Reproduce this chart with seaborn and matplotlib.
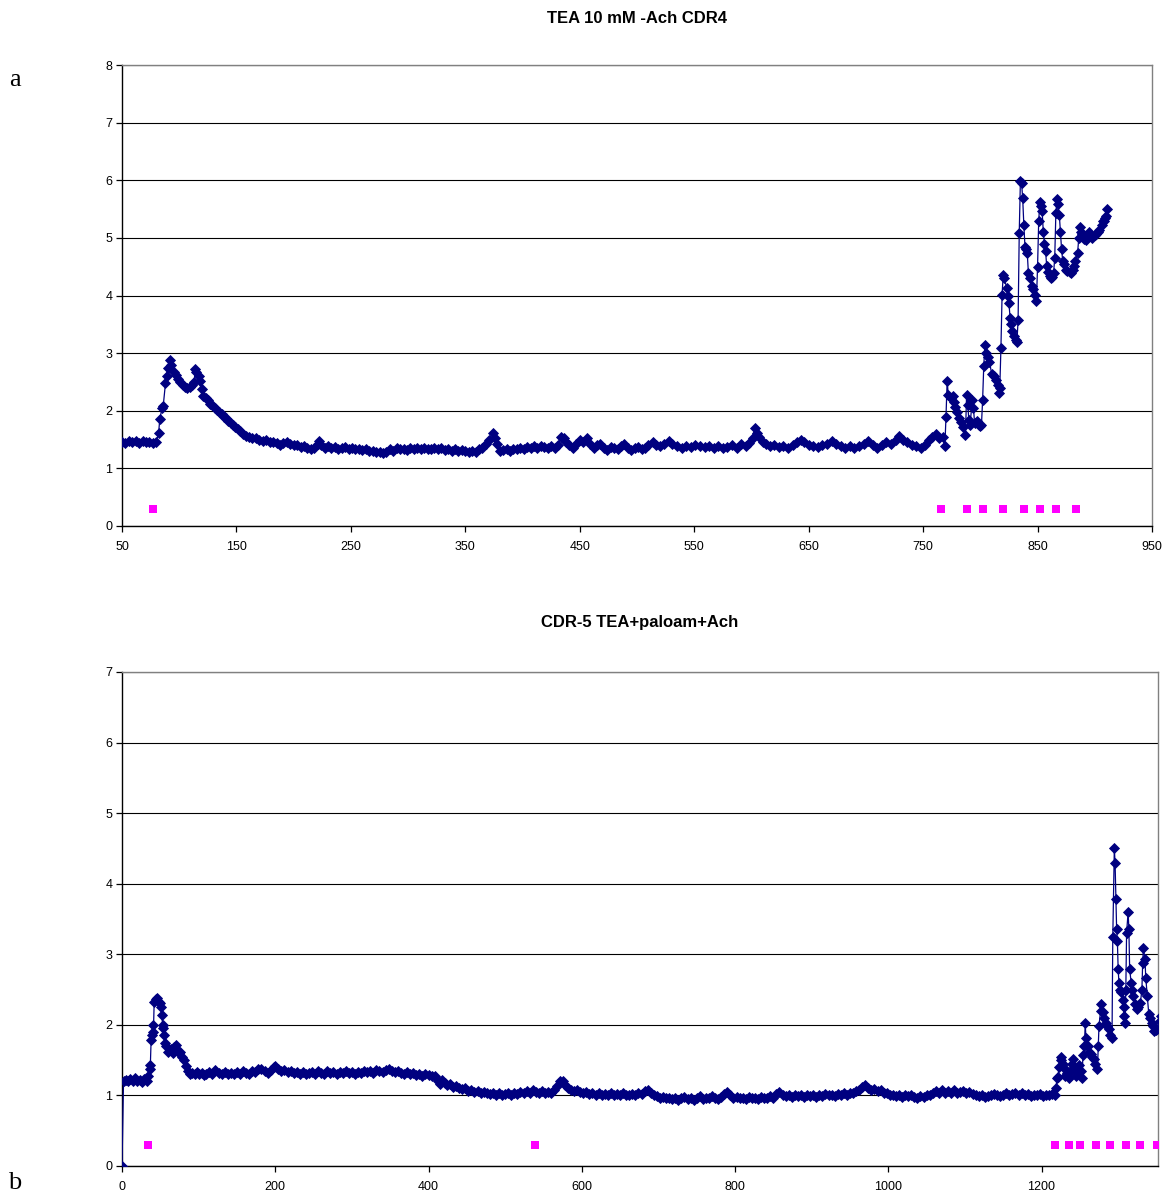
import matplotlib
matplotlib.use("Agg")
import matplotlib.pyplot as plt
import seaborn as sns
import pandas as pd

# ---------------- data ----------------
title_a = "TEA 10 mM -Ach CDR4"
title_b = "CDR-5 TEA+paloam+Ach"

a_x = [50, 53, 56, 59, 62, 65, 68, 71, 74, 77, 80, 82, 83, 85, 86, 88, 89, 90, 92, 93, 95, 97, 99, 101, 103, 105, 107, 109,
       111, 113, 114, 115, 117, 118, 120, 121, 123, 125, 127, 129, 131, 133, 135, 137, 139, 141, 143, 145, 147, 149, 151,
       153, 156, 158, 161, 164, 167, 170, 173, 176, 179, 182, 185, 188, 191, 194, 197, 200, 203, 206, 209, 212, 215, 218,
       221, 222, 224, 227, 230, 233, 236, 239, 242, 245, 248, 251, 254, 257, 260, 263, 266, 269, 272, 275, 278, 281, 284,
       287, 290, 293, 296, 299, 302, 305, 308, 311, 314, 317, 320, 323, 326, 329, 332, 335, 338, 341, 344, 347, 350, 353,
       356, 359, 362, 365, 368, 371, 374, 376, 378, 380, 383, 386, 389, 392, 395, 398, 401, 404, 407, 410, 413, 416, 419,
       422, 425, 428, 431, 434, 436, 438, 441, 444, 447, 450, 453, 456, 459, 462, 465, 468, 471, 474, 477, 480, 483, 486,
       489, 492, 495, 498, 501, 504, 507, 510, 514, 517, 520, 524, 528, 531, 535, 539, 543, 547, 551, 555, 559, 563, 567,
       571, 575, 579, 583, 587, 591, 595, 598, 601, 603, 605, 607, 610, 613, 616, 620, 624, 628, 632, 636, 640, 643, 646,
       650, 654, 658, 662, 666, 670, 674, 678, 682, 686, 690, 694, 698, 702, 706, 710, 714, 718, 722, 726, 729, 732, 736,
       740, 744, 748, 752, 755, 758, 761, 764, 767, 769, 770, 771, 772, 774, 776, 777, 778, 780, 781, 783, 785, 787, 788,
       789, 790, 791, 793, 794, 795, 797, 799, 800, 801, 802, 803, 804, 805, 807, 808, 810, 812, 814, 815, 816, 817, 818,
       819, 820, 821, 823, 824, 825, 826, 827, 828, 829, 831, 832, 833, 834, 835, 836, 837, 838, 839, 840, 841, 842, 843,
       845, 846, 848, 849, 850, 851, 852, 853, 854, 855, 856, 857, 858, 859, 861, 862, 863, 864, 865, 866, 867, 868, 869,
       870, 871, 872, 873, 875, 876, 878, 879, 881, 882, 883, 885, 886, 887, 888, 889, 891, 892, 894, 895, 897, 898, 900,
       901, 903, 904, 906, 907, 908, 909, 910, 911]
a_y = [1.46, 1.44, 1.47, 1.45, 1.48, 1.44, 1.47, 1.45, 1.46, 1.44, 1.45, 1.62, 1.85, 2.05, 2.08, 2.48, 2.6, 2.75, 2.88, 2.8,
       2.68, 2.62, 2.55, 2.5, 2.45, 2.42, 2.4, 2.42, 2.45, 2.5, 2.72, 2.68, 2.6, 2.52, 2.38, 2.25, 2.22, 2.18, 2.12, 2.1,
       2.05, 2.02, 1.98, 1.95, 1.9, 1.87, 1.82, 1.78, 1.75, 1.72, 1.68, 1.64, 1.6, 1.57, 1.55, 1.52, 1.53, 1.5, 1.48, 1.5,
       1.46, 1.45, 1.44, 1.41, 1.44, 1.46, 1.42, 1.4, 1.41, 1.37, 1.38, 1.35, 1.33, 1.35, 1.42, 1.48, 1.4, 1.36, 1.38, 1.35,
       1.37, 1.34, 1.36, 1.37, 1.34, 1.35, 1.33, 1.34, 1.32, 1.34, 1.31, 1.3, 1.29, 1.28, 1.26, 1.29, 1.33, 1.31, 1.35,
       1.33, 1.34, 1.32, 1.35, 1.33, 1.36, 1.34, 1.35, 1.33, 1.34, 1.36, 1.33, 1.35, 1.32, 1.34, 1.31, 1.33, 1.3, 1.32,
       1.31, 1.29, 1.3, 1.28, 1.33, 1.36, 1.42, 1.5, 1.62, 1.52, 1.43, 1.3, 1.32, 1.33, 1.31, 1.34, 1.33, 1.35, 1.34, 1.37,
       1.35, 1.38, 1.36, 1.39, 1.37, 1.35, 1.38, 1.36, 1.4, 1.55, 1.52, 1.45, 1.4, 1.36, 1.42, 1.5, 1.46, 1.52, 1.42, 1.36,
       1.4, 1.43, 1.35, 1.32, 1.37, 1.35, 1.33, 1.38, 1.43, 1.36, 1.32, 1.35, 1.37, 1.34, 1.36, 1.4, 1.45, 1.4, 1.38, 1.42,
       1.47, 1.43, 1.38, 1.36, 1.39, 1.37, 1.4, 1.38, 1.37, 1.39, 1.36, 1.38, 1.35, 1.37, 1.4, 1.36, 1.43, 1.38, 1.44,
       1.52, 1.7, 1.62, 1.55, 1.46, 1.42, 1.38, 1.4, 1.37, 1.39, 1.36, 1.4, 1.45, 1.49, 1.46, 1.4, 1.38, 1.37, 1.4, 1.43,
       1.48, 1.42, 1.38, 1.36, 1.38, 1.35, 1.39, 1.42, 1.48, 1.4, 1.36, 1.4, 1.45, 1.42, 1.5, 1.56, 1.5, 1.46, 1.4, 1.38,
       1.36, 1.4, 1.5, 1.54, 1.6, 1.52, 1.55, 1.38, 1.9, 2.52, 2.28, 2.22, 2.25, 2.15, 2.07, 1.98, 1.87, 1.8, 1.72, 1.58,
       2.28, 2.1, 1.84, 1.75, 2.19, 2.05, 1.78, 1.82, 1.75, 1.73, 1.76, 2.19, 2.78, 3.14, 3.0, 2.93, 2.85, 2.63, 2.6, 2.54,
       2.45, 2.31, 2.4, 3.09, 4.01, 4.36, 4.3, 4.13, 4.0, 3.87, 3.61, 3.5, 3.38, 3.3, 3.23, 3.2, 3.58, 5.09, 5.98, 5.96,
       5.69, 5.23, 4.85, 4.8, 4.74, 4.39, 4.3, 4.16, 4.12, 4.01, 3.9, 4.5, 5.29, 5.62, 5.55, 5.46, 5.11, 4.9, 4.77, 4.51,
       4.4, 4.33, 4.3, 4.32, 4.39, 4.65, 5.43, 5.67, 5.58, 5.4, 5.11, 4.8, 4.6, 4.54, 4.45, 4.42, 4.4, 4.39, 4.45, 4.51,
       4.6, 4.74, 5.0, 5.19, 5.1, 5.06, 4.98, 4.97, 5.05, 5.11, 5.03, 5.0, 5.05, 5.06, 5.1, 5.14, 5.22, 5.29, 5.3, 5.35,
       5.38, 5.5]
a_mark_x = [77, 766, 788, 802, 820, 838, 852, 866, 884]
a_mark_y = [0.3, 0.3, 0.3, 0.3, 0.3, 0.3, 0.3, 0.3, 0.3]

b_x = [0, 2, 5, 8, 11, 14, 17, 20, 23, 26, 29, 32, 34, 36, 37, 38, 39, 40, 41, 42, 44, 46, 48, 50, 51, 52, 53, 54, 55, 56,
       58, 60, 62, 64, 66, 68, 70, 72, 74, 76, 78, 81, 84, 86, 89, 92, 95, 98, 101, 104, 107, 110, 114, 118, 122, 126,
       130, 134, 138, 142, 146, 150, 154, 158, 162, 166, 170, 174, 178, 182, 186, 190, 194, 198, 200, 204, 208, 212, 216,
       220, 224, 228, 232, 236, 240, 244, 248, 252, 256, 260, 264, 268, 272, 276, 280, 284, 288, 292, 296, 300, 304, 308,
       312, 316, 320, 324, 328, 332, 336, 340, 344, 348, 352, 356, 360, 364, 368, 372, 376, 380, 384, 388, 392, 396, 400,
       404, 408, 412, 415, 418, 421, 424, 428, 432, 436, 440, 444, 448, 452, 456, 460, 464, 468, 472, 476, 480, 484, 488,
       492, 496, 500, 504, 508, 512, 516, 520, 524, 528, 532, 536, 540, 544, 548, 552, 556, 560, 564, 568, 572, 575, 578,
       582, 586, 590, 594, 598, 602, 606, 610, 614, 618, 622, 626, 630, 634, 638, 642, 646, 650, 654, 658, 662, 666, 670,
       674, 678, 682, 686, 690, 694, 698, 702, 706, 710, 714, 718, 722, 726, 730, 734, 738, 742, 746, 750, 754, 758, 762,
       766, 770, 774, 778, 782, 786, 790, 794, 798, 802, 806, 810, 814, 818, 822, 826, 830, 834, 838, 842, 846, 850, 854,
       858, 862, 866, 870, 874, 878, 882, 886, 890, 894, 898, 902, 906, 910, 914, 918, 922, 926, 930, 934, 938, 942, 946,
       950, 954, 958, 962, 966, 970, 974, 978, 982, 986, 990, 994, 998, 1002, 1006, 1010, 1014, 1018, 1022, 1026, 1030,
       1034, 1038, 1042, 1046, 1050, 1054, 1058, 1062, 1066, 1070, 1074, 1078, 1082, 1086, 1090, 1094, 1098, 1102, 1106,
       1110, 1114, 1118, 1122, 1126, 1130, 1134, 1138, 1142, 1146, 1150, 1154, 1158, 1162, 1166, 1170, 1174, 1178, 1182,
       1186, 1190, 1194, 1198, 1202, 1206, 1210, 1214, 1217, 1219, 1220, 1221, 1223, 1225, 1226, 1228, 1230, 1231, 1233,
       1236, 1238, 1240, 1241, 1243, 1245, 1247, 1249, 1251, 1253, 1254, 1256, 1257, 1258, 1260, 1262, 1264, 1266, 1268,
       1270, 1273, 1274, 1275, 1277, 1278, 1280, 1282, 1284, 1286, 1288, 1290, 1292, 1293, 1295, 1296, 1297, 1298, 1299,
       1300, 1301, 1302, 1304, 1306, 1307, 1308, 1309, 1310, 1311, 1313, 1314, 1315, 1317, 1318, 1320, 1322, 1324, 1326,
       1329, 1331, 1332, 1333, 1335, 1336, 1338, 1340, 1342, 1344, 1346, 1347, 1349, 1351, 1354, 1356]
b_y = [0.0, 1.2, 1.22, 1.2, 1.23, 1.21, 1.24, 1.2, 1.22, 1.19, 1.23, 1.21, 1.28, 1.38, 1.43, 1.79, 1.85, 2.0, 1.9, 2.33,
       2.36, 2.38, 2.33, 2.31, 2.25, 2.14, 2.0, 1.96, 1.85, 1.74, 1.7, 1.62, 1.65, 1.66, 1.6, 1.68, 1.71, 1.65, 1.6, 1.62,
       1.55, 1.5, 1.42, 1.34, 1.31, 1.32, 1.31, 1.33, 1.31, 1.32, 1.29, 1.31, 1.33, 1.3, 1.36, 1.32, 1.31, 1.33, 1.31,
       1.32, 1.3, 1.33, 1.31, 1.34, 1.32, 1.31, 1.35, 1.33, 1.37, 1.38, 1.35, 1.32, 1.36, 1.4, 1.42, 1.37, 1.35, 1.36,
       1.33, 1.34, 1.32, 1.33, 1.31, 1.33, 1.3, 1.32, 1.33, 1.31, 1.34, 1.32, 1.31, 1.34, 1.32, 1.33, 1.31, 1.33, 1.32,
       1.34, 1.32, 1.33, 1.31, 1.33, 1.32, 1.35, 1.33, 1.34, 1.32, 1.36, 1.34, 1.33, 1.36, 1.37, 1.35, 1.33, 1.34, 1.32,
       1.31, 1.33, 1.3, 1.32, 1.29, 1.31, 1.28, 1.3, 1.29, 1.27, 1.28, 1.2, 1.16, 1.22, 1.18, 1.15, 1.16, 1.12, 1.13, 1.1,
       1.09, 1.1, 1.06, 1.08, 1.05, 1.06, 1.03, 1.05, 1.04, 1.02, 1.04, 1.01, 1.03, 1.0, 1.02, 1.03, 1.01, 1.04, 1.02,
       1.05, 1.03, 1.06, 1.04, 1.08, 1.05, 1.03, 1.06, 1.04, 1.05, 1.03, 1.08, 1.14, 1.2, 1.21, 1.15, 1.1, 1.07, 1.06,
       1.08, 1.05, 1.03, 1.05, 1.02, 1.04, 1.01, 1.03, 1.0, 1.02, 1.01, 1.03, 1.0, 1.02, 1.0, 1.03, 1.01, 1.0, 1.02, 1.0,
       1.03, 1.02, 1.06, 1.07, 1.03, 1.01, 0.99, 0.97, 0.98, 0.96, 0.97, 0.95, 0.97, 0.94, 0.96, 0.98, 0.95, 0.97, 0.94,
       0.96, 0.99, 0.95, 0.97, 0.96, 0.99, 0.97, 0.95, 0.98, 1.02, 1.05, 1.0, 0.97, 0.98, 0.96, 0.97, 0.95, 0.98, 0.96,
       0.97, 0.95, 0.98, 0.96, 0.97, 0.99, 0.97, 1.02, 1.05, 1.01, 0.99, 1.0, 0.98, 1.01, 0.99, 1.0, 0.98, 1.01, 0.99,
       1.0, 0.98, 1.0, 0.99, 1.02, 1.0, 1.01, 0.99, 1.02, 1.0, 1.03, 1.01, 1.04, 1.03, 1.06, 1.08, 1.12, 1.15, 1.1, 1.08,
       1.09, 1.06, 1.07, 1.04, 1.03, 1.01, 1.0, 0.99, 1.01, 0.98, 1.0, 0.99, 1.01, 0.98, 0.97, 0.99, 0.98, 1.0, 1.01,
       1.04, 1.06, 1.04, 1.07, 1.03, 1.06, 1.04, 1.07, 1.03, 1.05, 1.06, 1.03, 1.05, 1.02, 1.0, 0.99, 1.01, 0.98, 0.99,
       1.01, 1.02, 1.0, 0.99, 1.01, 1.03, 1.0, 1.02, 1.04, 1.01, 1.03, 1.0, 1.02, 0.99, 1.01, 1.0, 1.02, 0.99, 1.01, 1.0,
       1.02, 1.0, 1.1, 1.24, 1.26, 1.4, 1.5, 1.54, 1.45, 1.38, 1.28, 1.32, 1.24, 1.35, 1.45, 1.52, 1.4, 1.28, 1.35, 1.43,
       1.35, 1.24, 1.57, 1.7, 2.02, 1.81, 1.7, 1.62, 1.58, 1.55, 1.52, 1.45, 1.38, 1.7, 1.99, 2.2, 2.29, 2.18, 2.1, 2.03,
       1.98, 1.94, 1.85, 1.82, 3.24, 4.5, 4.29, 3.79, 3.36, 3.19, 2.79, 2.6, 2.5, 2.46, 2.35, 2.25, 2.12, 2.03, 2.5, 3.3,
       3.6, 3.36, 2.79, 2.6, 2.5, 2.41, 2.3, 2.22, 2.25, 2.31, 2.5, 2.88, 3.09, 2.93, 2.67, 2.41, 2.15, 2.1, 2.03, 1.98,
       1.91, 1.93, 1.94, 2.05, 2.13]
b_mark_x = [34, 539, 1217, 1236, 1250, 1271, 1289, 1310, 1328, 1351]
b_mark_y = [0.3, 0.3, 0.3, 0.3, 0.3, 0.3, 0.3, 0.3, 0.3, 0.3]

a_xticks = [50, 150, 250, 350, 450, 550, 650, 750, 850, 950]
a_yticks = [0, 1, 2, 3, 4, 5, 6, 7, 8]
b_xticks = [0, 200, 400, 600, 800, 1000, 1200]
b_yticks = [0, 1, 2, 3, 4, 5, 6, 7]

# ---------------- style ----------------
sns.set_style("white")
plt.rcParams["font.family"] = ["Liberation Sans", "DejaVu Sans"]
plt.rcParams["text.color"] = "black"
plt.rcParams["xtick.color"] = "black"
plt.rcParams["ytick.color"] = "black"
plt.rcParams["axes.labelcolor"] = "black"

W, H = 1173, 1195
fig = plt.figure(figsize=(W / 100, H / 100), dpi=100)

ax_a = fig.add_axes([122 / W, 1 - 526 / H, (1152 - 122) / W, (526 - 65) / H])
ax_b = fig.add_axes([122 / W, 1 - 1166 / H, (1158 - 122) / W, (1166 - 672) / H])

navy = "#000080"
pink = "#FF00FF"


def draw(ax, xs, ys, mx, my, xlim, ylim, xticks, yticks, title, tpad):
    df = pd.DataFrame({"x": xs, "y": ys})
    sns.lineplot(data=df, x="x", y="y", ax=ax, color=navy, linewidth=0.9,
                 marker="D", markersize=5.0, markeredgecolor=navy, markerfacecolor=navy,
                 markeredgewidth=0.6, sort=False, estimator=None, zorder=3)
    dm = pd.DataFrame({"x": mx, "y": my})
    sns.scatterplot(data=dm, x="x", y="y", ax=ax, color=pink, marker="s", s=40,
                    edgecolor=pink, linewidth=0, zorder=4)
    ax.set_xlim(*xlim)
    ax.set_ylim(*ylim)
    ax.set_xticks(xticks)
    ax.set_yticks(yticks)
    ax.set_xlabel("")
    ax.set_ylabel("")
    ax.grid(axis="y", color="black", linewidth=0.8)
    ax.grid(axis="x", visible=False)
    ax.set_axisbelow(True)
    for s in ["left", "bottom"]:
        ax.spines[s].set_color("black")
        ax.spines[s].set_linewidth(1.0)
    for s in ["top", "right"]:
        ax.spines[s].set_color("#808080")
        ax.spines[s].set_linewidth(1.0)
    ax.tick_params(axis="both", which="major", direction="out", length=4, width=0.9,
                   color="black", labelcolor="black", labelsize=9, pad=3, bottom=True, left=True)
    ax.tick_params(axis="x", pad=6.5)
    ax.set_title(title, fontsize=12, fontweight="bold", pad=tpad, color="black")


draw(ax_a, a_x, a_y, a_mark_x, a_mark_y, (50, 950), (0, 8), a_xticks, a_yticks, title_a, 30)
draw(ax_b, b_x, b_y, b_mark_x, b_mark_y, (0, 1352), (0, 7), b_xticks, b_yticks, title_b, 32.5)

fig.text(15 / W, 1 - 80 / H, "a", family=["Liberation Serif", "DejaVu Serif"], fontsize=19,
         ha="center", va="center", color="black")
fig.text(15 / W, 1 - 1183 / H, "b", family=["Liberation Serif", "DejaVu Serif"], fontsize=19,
         ha="center", va="center", color="black")

fig.savefig("out.png", dpi=100, facecolor="white")
